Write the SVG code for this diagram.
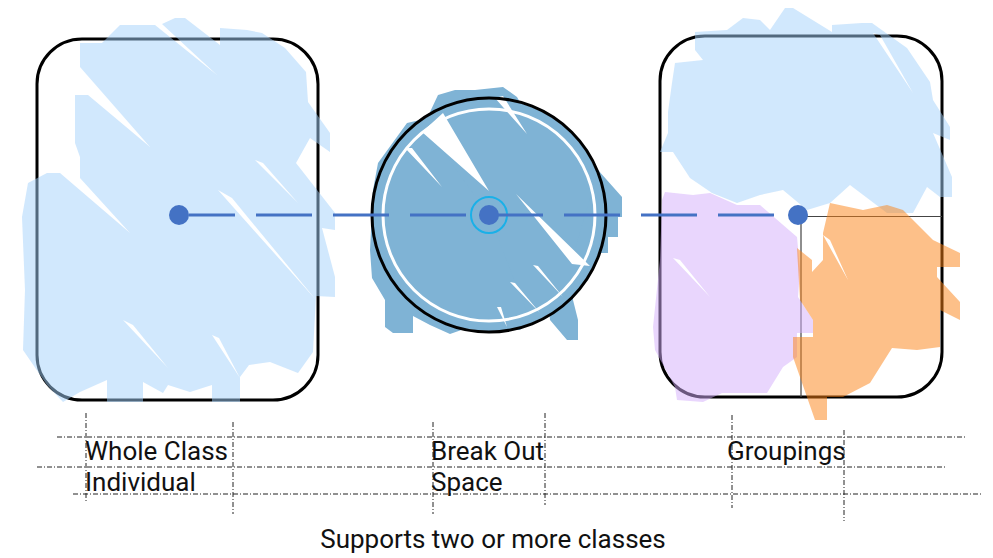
<svg xmlns="http://www.w3.org/2000/svg" width="993" height="558" viewBox="0 0 993 558">
  <style>
    .frame { fill: none; stroke: #000; stroke-width: 3; }
    .blue { fill: #a3d2fb; fill-opacity: 0.5; fill-rule: evenodd; }
    .purple { fill: #d3adfb; fill-opacity: 0.5; fill-rule: evenodd; }
    .orange { fill: #fb8113; fill-opacity: 0.5; fill-rule: evenodd; }
    .dark { fill: #7fb3d5; }
    .gap { fill: #fff; }
    .dot { fill: #4472c4; }
    .thin { stroke: #444; stroke-width: 1.2; fill: none; }
    .guide { stroke: #222; stroke-width: 1; fill: none; stroke-dasharray: 5 2 1 2; }
    .label { font-family: Roboto, "Liberation Sans", sans-serif; font-size: 26px; fill: #111; }
    .link { stroke: #4472c4; stroke-width: 3; fill: none; stroke-dasharray: 56 21; }
  </style>

  <g id="guides">
    <line class="guide" x1="57" y1="437" x2="965" y2="437"/>
    <line class="guide" x1="37" y1="467" x2="945" y2="467"/>
    <line class="guide" x1="73" y1="494" x2="983" y2="494"/>
    <line class="guide" x1="86" y1="413" x2="86" y2="503"/>
    <line class="guide" x1="233" y1="422" x2="233" y2="514"/>
    <line class="guide" x1="433" y1="422" x2="433" y2="514"/>
    <line class="guide" x1="545" y1="413" x2="545" y2="505"/>
    <line class="guide" x1="732" y1="415" x2="732" y2="508"/>
    <line class="guide" x1="844" y1="430" x2="844" y2="521"/>
  </g>

  <g id="whole-class">
    <rect class="frame" x="37" y="39" width="281" height="361" rx="45"/>
    <path class="blue" d="M80,43 L102,43 L120,25 L155,25 L217,75 L162,24 L175,18 L185,18 L220,45 L220,28 L247,30 L262,33 L285,48 L306,72 L308,102 L330,133 L330,152 L310,138 L296,163 L335,213 L335,230 L322,228 L335,277 L335,297 L316,296 L313,352 L298,373 L270,362 L249,365 L240,377 L240,402 L212,402 L212,385 L190,392 L168,385 L163,393 L143,382 L143,402 L107,402 L107,380 L80,392 L63,402 L47,385 L23,350 L25,290 L22,217 L28,183 L47,173 L60,173 L130,233 L80,178 L80,157 L75,143 L75,95 L88,95 L150,147 L80,67 Z
      M218,190 L232,198 L316,300 Z
      M255,160 L263,163 L298,203 Z
      M123,320 L133,325 L168,368 Z
      M212,335 L219,338 L240,378 Z"/>
    <circle class="dot" cx="179" cy="215" r="10"/>
  </g>

  <g id="break-out">
    <circle class="dark" cx="489" cy="215" r="116"/>
    <path class="dark" d="M430,112 L438,95 L455,90 L475,90 L503,87 L517,97 L522,106 Z
      M420,120 L407,123 L378,163 L373,190 L370,250 L372,278 L385,300 L385,327 L393,333 L413,333 L413,316 L430,325 L450,334 L470,327 L500,330 L520,330 L530,320 L489,215 Z
      M598,170 L622,197 L622,217 L618,217 L618,237 L608,237 L608,253 L595,253 L595,265 L587,265 L575,250 Z
      M548,300 L573,285 L573,300 L578,320 L578,340 L567,340 L550,320 Z"/>
    <path class="gap" d="M422,132 L443,113 L489,191 Z M405,148 L412,148 L442,187 Z M495,98 L503,96 L527,134 Z M516,194 L590,266 L572,264 Z M533,265 L538,266 L563,297 Z M510,282 L515,283 L540,313 Z M497,307 L501,307 L507,327 Z"/>
    <circle cx="489" cy="215" r="106" fill="none" stroke="#fff" stroke-width="3"/>
    <circle class="frame" cx="489" cy="215" r="117"/>
    <circle class="dot" cx="489" cy="215" r="10"/>
    <circle cx="489" cy="215" r="18" fill="none" stroke="#1ab0e8" stroke-width="2"/>
  </g>

  <g id="groupings">
    <rect class="frame" x="660" y="36" width="282" height="361" rx="45"/>
    <path class="thin" d="M798,216.5 H942 M801,216 V397"/>
    <path class="blue" d="M695,50 L695,32 L727,30 L743,18 L760,20 L770,30 L785,8 L793,8 L832,32 L832,25 L862,23 L872,23 L907,48 L930,82 L933,100 L950,127 L950,140 L933,133 L952,177 L952,197 L940,197 L927,187 L913,213 L887,213 L850,185 L830,203 L807,210 L783,190 L760,195 L737,203 L712,193 L690,178 L673,152 L660,152 L668,133 L668,112 L672,83 L675,63 L703,60 Z
      M873,33 L880,35 L913,93 Z"/>
    <path class="purple" d="M665,192 L693,195 L710,193 L737,205 L760,205 L797,237 L800,270 L798,297 L813,320 L813,333 L797,333 L797,357 L783,367 L767,393 L722,393 L703,402 L677,400 L675,387 L655,350 L653,327 L660,260 L662,200 Z
      M673,258 L680,260 L710,297 Z"/>
    <path class="orange" d="M830,203 L863,210 L887,205 L903,210 L933,240 L960,253 L960,267 L937,267 L937,277 L960,302 L960,320 L940,310 L940,347 L917,350 L892,348 L870,383 L843,397 L827,397 L827,420 L815,420 L793,357 L793,337 L813,337 L813,320 L800,300 L797,248 L812,260 L812,272 L823,260 L823,233 Z
      M823,235 L830,240 L848,280 Z"/>
    <circle class="dot" cx="798" cy="215" r="10"/>
  </g>

  <g id="connectors">
    <line class="link" x1="189" y1="215" x2="788" y2="215" stroke-dashoffset="10"/>
  </g>

  <g id="labels">
    <text class="label" x="85" y="460">Whole Class</text>
    <text class="label" x="85" y="491">Individual</text>
    <text class="label" x="431" y="460">Break Out</text>
    <text class="label" x="431" y="491">Space</text>
    <text class="label" x="727" y="460">Groupings</text>
    <text class="label" x="493" y="548" text-anchor="middle">Supports two or more classes</text>
  </g>
</svg>
